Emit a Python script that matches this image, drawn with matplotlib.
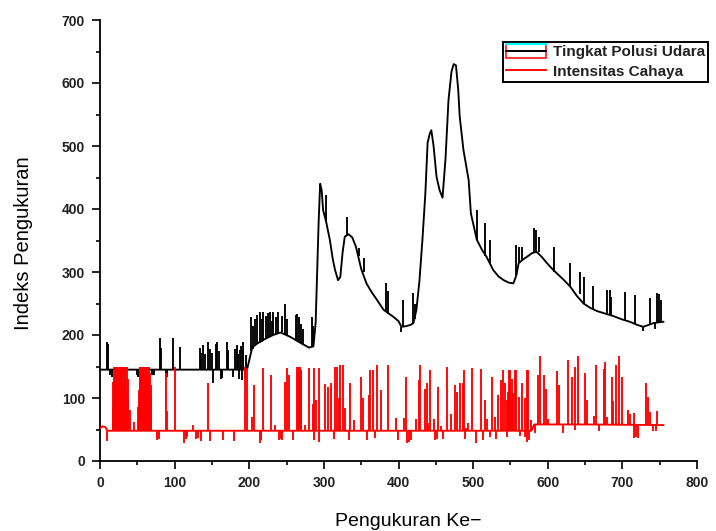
import matplotlib
matplotlib.use("Agg")
import matplotlib.pyplot as plt
from matplotlib.patches import Rectangle
from matplotlib.lines import Line2D
from matplotlib.legend_handler import HandlerBase
from matplotlib.ticker import MultipleLocator

# ---------------- data ----------------
x_ticks = [0, 100, 200, 300, 400, 500, 600, 700, 800]
y_ticks = [0, 100, 200, 300, 400, 500, 600, 700]

series_names = ["Tingkat Polusi Udara", "Intensitas Cahaya"]

# Tingkat Polusi Udara: underlying trend (vertices)
polusi_base_x = [0, 197, 200, 204, 210, 220, 232, 242, 255, 268, 280, 286, 289, 291, 293, 295,
                 297, 299, 303, 308, 312, 315, 319, 322, 325, 328, 333, 338, 343, 350, 357, 364,
                 371, 380, 393, 400, 404, 410, 416, 420, 424, 428, 432, 436, 439, 442, 444, 447,
                 451, 455, 459, 463, 467, 471, 474, 477, 480, 482, 487, 494, 497, 505, 512, 518,
                 527, 534, 541, 548, 554, 558, 561, 567, 572, 579, 585, 592, 599, 606, 612, 621,
                 630, 639, 648, 657, 666, 677, 688, 699, 710, 720, 728, 735, 742, 748, 755]
polusi_base_y = [145, 145, 160, 180, 186, 193, 200, 204, 197, 188, 180, 182, 220, 300, 380, 440,
                 430, 398, 380, 351, 320, 303, 287, 292, 330, 356, 360, 355, 340, 305, 282, 268,
                 256, 240, 229, 222, 213, 214, 216, 219, 240, 285, 350, 425, 505, 520, 525, 500,
                 451, 430, 418, 480, 573, 618, 630, 628, 590, 547, 494, 446, 393, 351, 335, 324,
                 303, 293, 287, 283, 282, 295, 314, 320, 324, 330, 332, 324, 314, 305, 298, 288,
                 277, 262, 250, 243, 238, 234, 230, 225, 221, 216, 213, 216, 219, 220, 221]

# Tingkat Polusi Udara: short excursions (x, from, to)
polusi_spike_x = [9, 11, 13, 16, 50, 51, 70, 73, 80, 82, 88, 90, 98, 107, 134, 136, 138, 141, 145,
                  147, 150, 152, 155, 157, 160, 162, 164, 170, 172, 178, 181, 183, 185, 186, 187,
                  189, 190, 191, 192, 194, 196,
                  203, 205, 208, 211, 214, 217, 219, 222, 225, 228, 230, 232, 236, 239, 244, 248,
                  251, 262, 264, 267, 270, 272, 284, 286,
                  303, 331, 347, 354, 383, 386, 404, 406, 420, 422, 505, 516, 523, 558, 561, 565,
                  581, 584, 588, 608, 630, 643, 648, 661, 679, 683, 685, 704, 717, 727, 737, 744,
                  746, 749, 752]
polusi_spike_lo = [145, 145, 136, 134, 136, 134, 137, 136, 145, 145, 131, 133, 145, 145, 145, 145,
                   145, 145, 145, 145, 145, 124, 145, 145, 145, 130, 132, 145, 145, 134, 145, 145,
                   145, 130, 145, 145, 128, 145, 145, 132, 145,
                   175, 178, 182, 186, 187, 189, 190, 194, 196, 198, 199, 200, 202, 203, 204, 202,
                   200, 192, 190, 189, 187, 186, 181, 182,
                   380, 358, 325, 300, 236, 233, 205, 213, 219, 225, 351, 326, 314, 295, 314, 318,
                   330, 331, 331, 300, 277, 265, 250, 240, 233, 232, 231, 223, 217, 207, 217, 210,
                   219, 220, 220]
polusi_spike_hi = [189, 185, 145, 145, 145, 145, 145, 145, 195, 180, 145, 145, 195, 181, 180, 172,
                   184, 170, 189, 178, 172, 145, 186, 189, 175, 145, 145, 189, 176, 145, 178, 184,
                   170, 145, 176, 182, 145, 175, 189, 145, 168,
                   229, 215, 225, 232, 237, 225, 237, 230, 235, 237, 222, 236, 228, 237, 230, 250,
                   225, 232, 234, 229, 218, 210, 229, 215,
                   422, 388, 338, 322, 282, 270, 213, 255, 266, 250, 398, 377, 351, 343, 340, 340,
                   370, 367, 355, 340, 314, 300, 292, 277, 271, 271, 260, 269, 263, 213, 258, 219,
                   266, 265, 255]

# Intensitas Cahaya: underlying level (vertices)
cahaya_base_x = [0, 3, 7, 10, 578, 582, 650, 755]
cahaya_base_y = [52, 55, 54, 48, 48, 58, 58, 57]

# Intensitas Cahaya: upward pulses (x, top)
cahaya_up_x = [17, 18, 19, 20, 21, 22, 23, 24, 25, 26, 27, 28, 29, 30, 31, 32, 33, 34, 35, 36, 37,
               38, 40, 46,
               51, 52, 53, 54, 55, 56, 57, 58, 59, 60, 61, 62, 63, 64, 65, 66, 67, 68, 69,
               88, 90, 100, 125, 145, 194, 197, 204, 206, 218, 229, 234, 248, 250, 253,
               264, 265, 266, 267, 268, 269, 270, 275, 280, 285, 287, 290, 294, 302, 305, 310,
               315, 317, 320, 322, 325, 328, 335, 340, 350, 352, 360, 362, 366, 371, 376, 386,
               396, 408, 410, 424, 427, 429, 435, 438, 440, 442, 448, 453, 457, 465, 471, 476,
               479, 482, 486, 488, 491, 493, 499, 511, 516, 519, 525, 529, 534, 537, 540, 543,
               546, 547, 548, 549, 550, 551, 552, 554, 556, 558, 561, 565, 570, 572, 574, 578,
               587, 589, 595, 598, 601, 612, 615, 627, 632, 637, 640, 650, 652, 662, 664, 675,
               677, 679, 686, 688, 692, 695, 700, 708, 710, 715, 731, 735, 737, 747]
cahaya_up_hi = [86, 126, 150, 150, 140, 150, 150, 150, 130, 150, 150, 150, 145, 150, 150, 120, 150,
                150, 110, 150, 130, 100, 81, 62,
                86, 113, 150, 150, 140, 150, 150, 150, 135, 150, 150, 150, 125, 150, 150, 150, 140,
                120, 100,
                140, 80, 150, 57, 124, 150, 147, 70, 121, 147, 136, 57, 126, 147, 136,
                150, 143, 150, 135, 150, 145, 143, 57, 147, 90, 147, 97, 147, 123, 117, 124,
                150, 150, 100, 152, 152, 84, 124, 65, 134, 100, 105, 145, 145, 152, 113, 152,
                68, 68, 134, 66, 129, 152, 115, 124, 60, 145, 66, 118, 55, 150, 75, 121,
                110, 124, 124, 145, 52, 60, 147, 146, 97, 66, 134, 70, 105, 129, 145, 124,
                97, 110, 145, 120, 145, 90, 130, 108, 145, 145, 101, 124, 100, 145, 145, 65,
                136, 166, 136, 115, 66, 143, 121, 160, 134, 150, 166, 140, 97, 71, 152, 146,
                157, 70, 134, 96, 152, 166, 134, 81, 75, 76, 124, 101, 78, 80]

# Intensitas Cahaya: downward pulses (x, bottom)
cahaya_down_x = [9, 77, 79, 113, 115, 117, 128, 131, 136, 147, 165, 180, 214, 216, 240, 242, 244,
                 259, 287, 294, 313, 333, 358, 368, 399, 412, 414, 417, 449, 451, 459, 489, 504,
                 513, 523, 530, 545, 563, 570, 572, 575, 583, 620, 636, 669, 716, 718, 721, 741,
                 745]
cahaya_down_lo = [31, 33, 35, 28, 35, 38, 35, 36, 31, 31, 33, 31, 28, 33, 33, 35, 33,
                  33, 33, 30, 35, 33, 33, 36, 33, 28, 30, 33, 33, 35, 35, 35, 28,
                  33, 38, 35, 38, 40, 38, 30, 33, 45, 45, 49, 48, 36, 38, 36, 47,
                  48]
cahaya_down_top = [48 if x < 580 else 58 for x in cahaya_down_x]
cahaya_up_lo = [48 if x < 580 else 58 for x in cahaya_up_x]

# ---------------- drawing ----------------
plt.rcParams["font.family"] = ["Liberation Sans", "DejaVu Sans"]

fig = plt.figure(figsize=(7.16, 5.31), dpi=100)
ax = fig.add_axes([100 / 716, 1 - 461 / 531, 597 / 716, 441 / 531])

LW = 1.35
(black_line,) = ax.plot(polusi_base_x, polusi_base_y, color="black", lw=LW,
                        label=series_names[0], zorder=2)
ax.vlines(polusi_spike_x, polusi_spike_lo, polusi_spike_hi, color="black", lw=LW, zorder=2)

(red_line,) = ax.plot(cahaya_base_x, cahaya_base_y, color="red", lw=LW,
                      label=series_names[1], zorder=3)
ax.vlines(cahaya_up_x, cahaya_up_lo, cahaya_up_hi, color="red", lw=LW, zorder=3)
ax.vlines(cahaya_down_x, cahaya_down_lo, cahaya_down_top, color="red", lw=LW, zorder=3)

ax.set_xlim(x_ticks[0], x_ticks[-1])
ax.set_ylim(y_ticks[0], y_ticks[-1])
ax.set_xticks(x_ticks)
ax.set_yticks(y_ticks)
ax.xaxis.set_minor_locator(MultipleLocator(50))
ax.yaxis.set_minor_locator(MultipleLocator(50))

for s in ["top", "right"]:
    ax.spines[s].set_visible(False)
for s in ["left", "bottom"]:
    ax.spines[s].set_linewidth(1.3)

ax.tick_params(which="major", direction="out", length=5.8, width=1.2, labelsize=10, pad=5)
ax.tick_params(which="minor", direction="out", length=2.6, width=1.2)
for lab in ax.get_xticklabels() + ax.get_yticklabels():
    lab.set_fontweight("bold")
    lab.set_color("#222222")

fig.text(24 / 716, 1 - 243 / 531, "Indeks Pengukuran", rotation=90, ha="center",
         va="center", fontsize=14.5)
fig.text(408 / 716, 1 - 521 / 531, "Pengukuran Ke\u2212", ha="center", va="center",
         fontsize=14)


class BoxedLineHandler(HandlerBase):
    def create_artists(self, legend, orig_handle, xdescent, ydescent, width, height,
                       fontsize, trans):
        x0, y0 = -xdescent, -ydescent
        rect = Rectangle((x0, y0 - 0.13 * height), width, 1.28 * height, facecolor="none",
                         edgecolor="red", lw=1.1, transform=trans)
        top = Line2D([x0, x0 + width], [y0 + 1.15 * height] * 2, color="cyan", lw=1.6,
                     transform=trans)
        line = Line2D([x0, x0 + width], [y0 + height / 2] * 2, color="black", lw=1.4,
                      transform=trans)
        return [rect, top, line]


leg = ax.legend(handles=[black_line, red_line], loc="upper left",
                bbox_to_anchor=(503 / 716, 1 - 42 / 531), bbox_transform=fig.transFigure,
                borderaxespad=0, borderpad=0.22, labelspacing=0.35, handlelength=2.6,
                handletextpad=0.45, fancybox=False, framealpha=1, edgecolor="black",
                prop={"size": 11, "weight": "bold"},
                handler_map={black_line: BoxedLineHandler()})
leg.get_frame().set_linewidth(1.4)
for t in leg.get_texts():
    t.set_color("#222222")

fig.savefig("out.png", dpi=100)
